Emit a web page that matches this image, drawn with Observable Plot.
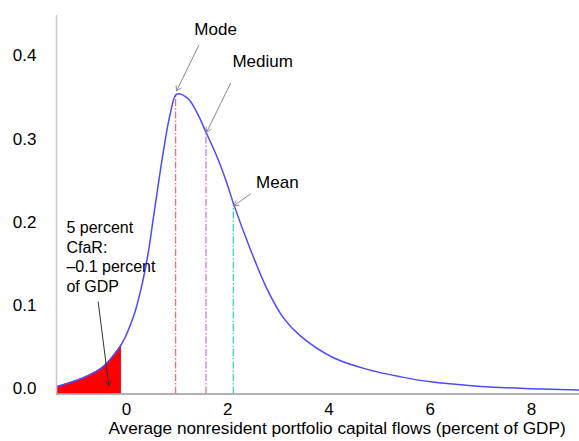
<!DOCTYPE html>
<html>
<head>
<meta charset="utf-8">
<script src="https://cdn.jsdelivr.net/npm/d3@7"></script>
<script src="https://cdn.jsdelivr.net/npm/@observablehq/plot@0.6"></script>
<style>
  html, body { margin: 0; padding: 0; background: #fff; }
  #chart svg { font-family: Arial, "Liberation Sans", sans-serif; }
</style>
</head>
<body>
<div id="chart"></div>
<script>
// ---- data ----
const flowX = [-1.37, -0.85, -0.51, -0.32, -0.1, 0.14, 0.28, 0.42, 0.53, 0.61, 0.73, 0.87, 0.99,
  1.21, 1.40, 1.58, 1.80, 2.00, 2.11, 2.45, 2.79, 3.10, 3.44, 4.09, 4.76, 5.42, 6.01, 7.00, 7.98, 8.95];
const density = [0.0054, 0.0160, 0.0270, 0.0380, 0.056, 0.0900, 0.1210, 0.1630, 0.2080, 0.2410, 0.2890, 0.3350, 0.3570,
  0.3520, 0.3339, 0.3100, 0.2800, 0.2470, 0.2260, 0.1700, 0.1210, 0.0880, 0.0660, 0.0400, 0.0260, 0.0170, 0.0110, 0.0055, 0.0028, 0.0012];
const statNames = ["Mode", "Medium", "Mean"];
const statX = [0.97, 1.57, 2.11];
const statY = [0.356, 0.311, 0.226];
const statColors = ["#ff6a6a", "#d874e0", "#40cccc"];
const cfarX = -0.1;
const cfarLabel = "5 percent\nCfaR:\n\u20130.1 percent\nof GDP";
const xTicks = [0, 2, 4, 6, 8];
const yTicks = [0, 0.1, 0.2, 0.3, 0.4];
const xTitle = "Average nonresident portfolio capital flows (percent of GDP)";

// ---- build ----
const curve = flowX.map((x, i) => ({x, y: density[i]}));
const stats = statNames.map((name, i) => ({name, x: statX[i], y: statY[i], color: statColors[i]}));
const xMin = -1.383, xMax = 8.95, yMin = -0.0036, yMax = 0.4517;
const font = 17;

const annotations = [
  {text: "Mode", x: 1.76, y: 0.435, x1: 1.43, y1: 0.416, x2: 0.988, y2: 0.361},
  {text: "Medium", x: 2.69, y: 0.396, x1: 2.055, y1: 0.370, x2: 1.581, y2: 0.311},
  {text: "Mean", x: 2.98, y: 0.251, x1: 2.45, y1: 0.237, x2: 2.12, y2: 0.223}
];

const chart = Plot.plot({
  width: 579,
  height: 441,
  marginLeft: 56,
  marginRight: 0,
  marginTop: 15,
  marginBottom: 47.5,
  x: {domain: [xMin, xMax]},
  y: {domain: [yMin, yMax]},
  marks: [
    Plot.areaY(curve.filter(d => d.x <= cfarX), {x: "x", y1: yMin, y2: "y", fill: "#ff0000", curve: "catmull-rom"}),
    Plot.ruleX(stats, {x: "x", y1: yMin, y2: "y", stroke: d => d.color, strokeWidth: 1.3, strokeDasharray: "7,2,1.5,2"}),
    Plot.line(curve, {x: "x", y: "y", stroke: "#4b4bff", strokeWidth: 1.5, curve: "catmull-rom"}),
    Plot.ruleY([yMin], {stroke: "#999", strokeWidth: 1.5}),
    Plot.ruleX([xMin], {stroke: "#c8c8c8", strokeWidth: 1.5}),
    Plot.axisX({ticks: xTicks, tickSize: 0, tickPadding: 8.5, fontSize: font, label: null, tickFormat: d => String(d), fill: "#000"}),
    Plot.axisY({ticks: yTicks, tickSize: 0, tickPadding: 20, fontSize: font, label: null, tickFormat: d3.format(".1f"), dy: -2.5, fill: "#000"}),
    Plot.arrow(annotations, {x1: "x1", y1: "y1", x2: "x2", y2: "y2", stroke: "#8a8a8a", strokeWidth: 1, headLength: 8}),
    Plot.text(annotations, {x: "x", y: "y", text: "text", fontSize: font, fill: "#000"}),
    Plot.arrow([cfarX], {x1: -0.559, y1: 0.107, x2: -0.35, y2: 0.0066, stroke: "#333", strokeWidth: 1, headLength: 8}),
    Plot.text([cfarLabel], {x: -1.186, y: 0.162, text: d => d, textAnchor: "start", lineHeight: 1.21, fontSize: 16, fill: "#000"}),
    Plot.text([xTitle], {x: 4.16, frameAnchor: "bottom", dy: 39.5, text: d => d, fontSize: 17.2, fill: "#000"})
  ]
});
document.getElementById("chart").appendChild(chart);
</script>
</body>
</html>
